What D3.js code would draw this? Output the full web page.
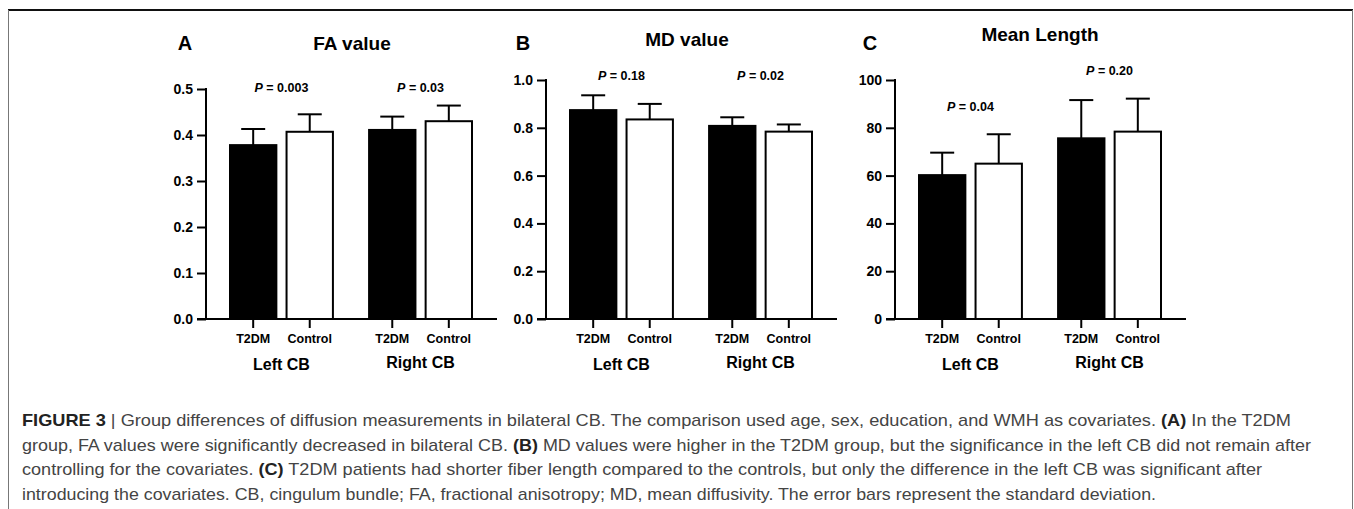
<!DOCTYPE html>
<html>
<head>
<meta charset="utf-8">
<script src="https://cdn.jsdelivr.net/npm/d3@7"></script>
<style>
  html, body { margin: 0; padding: 0; background: #fff; }
  svg { display: block; }
  text { font-family: "Liberation Sans", Arial, Helvetica, sans-serif; }
</style>
</head>
<body>
<div id="chart"></div>
<script>
// Figure 3 — group differences of diffusion measures, bilateral CB

const W = 1354, H = 509;

// ─── Data ─────────────────────────────────────────────────────────────────────

const sides = ['Left CB', 'Right CB'];
const groups = ['T2DM', 'Control'];

// mean / SD per side, [T2DM, Control]
const faMean = [[0.378, 0.407], [0.411, 0.430]];
const faSd   = [[0.035, 0.038], [0.029, 0.034]];
const faP    = ['0.003', '0.03'];
const faPAt  = [0.502, 0.502];
const faTicks = [0, 0.1, 0.2, 0.3, 0.4, 0.5];

const mdMean = [[0.874, 0.835], [0.808, 0.784]];
const mdSd   = [[0.062, 0.065], [0.036, 0.030]];
const mdP    = ['0.18', '0.02'];
const mdPAt  = [1.017, 1.017];
const mdTicks = [0, 0.2, 0.4, 0.6, 0.8, 1.0];

const mlMean = [[60.2, 65.0], [75.6, 78.4]];
const mlSd   = [[9.4, 12.3], [16.0, 13.8]];
const mlP    = ['0.04', '0.20'];
const mlPAt  = [88.7, 103.8];
const mlTicks = [0, 20, 40, 60, 80, 100];

const captionLines = [
  [['FIGURE 3', true], [' | Group differences of diffusion measurements in bilateral CB. The comparison used age, sex, education, and WMH as covariates. ', false], ['(A)', true], [' In the T2DM', false]],
  [['group, FA values were significantly decreased in bilateral CB. ', false], ['(B)', true], [' MD values were higher in the T2DM group, but the significance in the left CB did not remain after', false]],
  [['controlling for the covariates. ', false], ['(C)', true], [' T2DM patients had shorter fiber length compared to the controls, but only the difference in the left CB was significant after', false]],
  [['introducing the covariates. CB, cingulum bundle; FA, fractional anisotropy; MD, mean diffusivity. The error bars represent the standard deviation.', false]],
];
const captionWidths = [1269, 1289, 1240, 1134];

// ─── Panels ───────────────────────────────────────────────────────────────────

const panels = [
  { letter: 'A', title: 'FA value',    mean: faMean, sd: faSd, p: faP, pAt: faPAt, ticks: faTicks, fmt: d3.format('.1f'),
    axisX: 206, yTop: 89, letterX: 185, titleX: 352, titleY: 43 },
  { letter: 'B', title: 'MD value',    mean: mdMean, sd: mdSd, p: mdP, pAt: mdPAt, ticks: mdTicks, fmt: d3.format('.1f'),
    axisX: 546, yTop: 80, letterX: 523, titleX: 687, titleY: 39 },
  { letter: 'C', title: 'Mean Length', mean: mlMean, sd: mlSd, p: mlP, pAt: mlPAt, ticks: mlTicks, fmt: d3.format('d'),
    axisX: 895, yTop: 80, letterX: 870, titleX: 1040, titleY: 34 },
];

const Y0 = 319;       // baseline of every panel
const STROKE = 2;

const svg = d3.select('#chart').append('svg')
  .attr('width', W)
  .attr('height', H);

// frame
svg.append('line').attr('x1', 8).attr('x2', W - 1).attr('y1', 10).attr('y2', 10)
  .attr('stroke', '#111').attr('stroke-width', 2);
svg.append('line').attr('x1', 8.5).attr('x2', 8.5).attr('y1', 10).attr('y2', H)
  .attr('stroke', '#777').attr('stroke-width', 1);
svg.append('line').attr('x1', W - 1.5).attr('x2', W - 1.5).attr('y1', 10).attr('y2', H)
  .attr('stroke', '#777').attr('stroke-width', 1);

panels.forEach(drawPanel);

function drawPanel(pn) {
  const g = svg.append('g');
  const ax = pn.axisX;

  const y = d3.scaleLinear()
    .domain([0, pn.ticks[pn.ticks.length - 1]])
    .range([Y0, pn.yTop]);

  const xSide = d3.scaleBand()
    .domain(sides)
    .range([ax + 24, ax + 266])
    .paddingInner(0.26)
    .paddingOuter(0);

  const xGroup = d3.scaleBand()
    .domain(groups)
    .range([0, xSide.bandwidth()])
    .paddingInner(0.18)
    .paddingOuter(0);

  // panel letter + title
  g.append('text')
    .attr('x', pn.letterX).attr('y', 43)
    .attr('text-anchor', 'middle').attr('dominant-baseline', 'central')
    .attr('font-size', 20).attr('font-weight', 'bold')
    .text(pn.letter);

  g.append('text')
    .attr('x', pn.titleX).attr('y', pn.titleY)
    .attr('text-anchor', 'middle').attr('dominant-baseline', 'central')
    .attr('font-size', 19).attr('font-weight', 'bold')
    .text(pn.title);

  // y axis
  const yAxis = d3.axisLeft(y)
    .tickValues(pn.ticks)
    .tickFormat(pn.fmt)
    .tickSize(9)
    .tickPadding(4);

  const ya = g.append('g')
    .attr('transform', `translate(${ax},0)`)
    .call(yAxis);
  ya.select('.domain').remove();
  ya.selectAll('.tick line').attr('stroke', '#000').attr('stroke-width', STROKE);
  ya.selectAll('.tick text')
    .attr('font-size', 14).attr('font-weight', 'bold')
    .attr('font-family', '"Liberation Sans", Arial, sans-serif')
    .attr('fill', '#000');

  g.append('line')
    .attr('x1', ax).attr('x2', ax)
    .attr('y1', pn.yTop - 1).attr('y2', Y0 + 1)
    .attr('stroke', '#000').attr('stroke-width', STROKE);

  // bars
  const rows = [];
  sides.forEach((s, i) => groups.forEach((gr, j) => {
    rows.push({ side: s, group: gr, mean: pn.mean[i][j], sd: pn.sd[i][j] });
  }));

  const bx = d => xSide(d.side) + xGroup(d.group);

  g.selectAll('rect.bar').data(rows).enter().append('rect')
    .attr('class', 'bar')
    .attr('x', bx)
    .attr('y', d => y(d.mean))
    .attr('width', xGroup.bandwidth())
    .attr('height', d => Y0 - y(d.mean))
    .attr('fill', d => d.group === 'T2DM' ? '#000' : '#fff')
    .attr('stroke', '#000')
    .attr('stroke-width', STROKE);

  // error bars (upper half only)
  const cap = 12;
  const eb = g.selectAll('g.err').data(rows).enter().append('g').attr('class', 'err');
  eb.append('line')
    .attr('x1', d => bx(d) + xGroup.bandwidth() / 2)
    .attr('x2', d => bx(d) + xGroup.bandwidth() / 2)
    .attr('y1', d => y(d.mean))
    .attr('y2', d => y(d.mean + d.sd))
    .attr('stroke', '#000').attr('stroke-width', STROKE);
  eb.append('line')
    .attr('x1', d => bx(d) + xGroup.bandwidth() / 2 - cap)
    .attr('x2', d => bx(d) + xGroup.bandwidth() / 2 + cap)
    .attr('y1', d => y(d.mean + d.sd))
    .attr('y2', d => y(d.mean + d.sd))
    .attr('stroke', '#000').attr('stroke-width', STROKE);

  // x baseline + ticks
  g.append('line')
    .attr('x1', ax - 9).attr('x2', ax + 291)
    .attr('y1', Y0).attr('y2', Y0)
    .attr('stroke', '#000').attr('stroke-width', STROKE);

  g.selectAll('line.xtick').data(rows).enter().append('line')
    .attr('class', 'xtick')
    .attr('x1', d => bx(d) + xGroup.bandwidth() / 2)
    .attr('x2', d => bx(d) + xGroup.bandwidth() / 2)
    .attr('y1', Y0).attr('y2', Y0 + 9)
    .attr('stroke', '#000').attr('stroke-width', STROKE);

  g.selectAll('text.grp').data(rows).enter().append('text')
    .attr('class', 'grp')
    .attr('x', d => bx(d) + xGroup.bandwidth() / 2)
    .attr('y', 339)
    .attr('text-anchor', 'middle').attr('dominant-baseline', 'central')
    .attr('font-size', 12.5).attr('font-weight', 'bold')
    .text(d => d.group);

  g.selectAll('text.side').data(sides).enter().append('text')
    .attr('class', 'side')
    .attr('x', d => xSide(d) + xSide.bandwidth() / 2)
    .attr('y', (d, i) => i === 0 ? 364 : 362)
    .attr('text-anchor', 'middle').attr('dominant-baseline', 'central')
    .attr('font-size', 16).attr('font-weight', 'bold')
    .text(d => d);

  // p values
  const pt = g.selectAll('text.pval').data(sides).enter().append('text')
    .attr('class', 'pval')
    .attr('x', d => xSide(d) + xSide.bandwidth() / 2)
    .attr('y', (d, i) => y(pn.pAt[i]))
    .attr('text-anchor', 'middle').attr('dominant-baseline', 'central')
    .attr('font-size', 12.5).attr('font-weight', 'bold');
  pt.append('tspan').attr('font-style', 'italic').text('P');
  pt.append('tspan').text((d, i) => ' = ' + pn.p[i]);
}

// ─── Caption ──────────────────────────────────────────────────────────────────

const capG = svg.append('g');
captionLines.forEach((parts, i) => {
  const t = capG.append('text')
    .attr('x', 22)
    .attr('y', 426 + i * 24.5)
    .attr('font-size', 17)
    .attr('textLength', captionWidths[i])
    .attr('lengthAdjust', 'spacingAndGlyphs');
  parts.forEach(([s, bold]) => {
    t.append('tspan')
      .attr('font-weight', bold ? 'bold' : 'normal')
      .attr('fill', bold ? '#222' : '#444')
      .text(s);
  });
});
</script>
</body>
</html>
